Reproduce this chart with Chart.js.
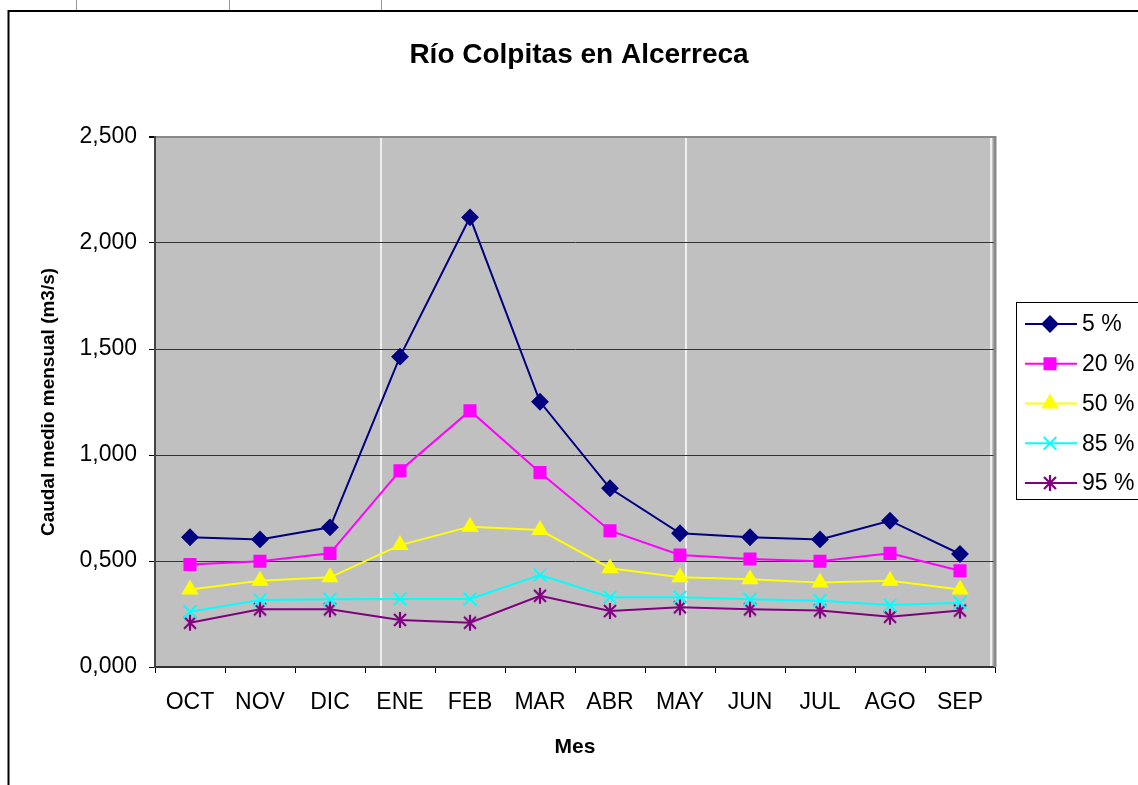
<!DOCTYPE html>
<html>
<head>
<meta charset="utf-8">
<script src="https://cdn.jsdelivr.net/npm/chart.js@4.4.0/dist/chart.umd.min.js"></script>
<style>
  html, body { margin: 0; padding: 0; background: #fff; }
  #wrap { width: 1138px; height: 785px; }
</style>
</head>
<body>
<div id="wrap"><canvas id="chart" width="1138" height="785"></canvas></div>
<script>
const months = ['OCT', 'NOV', 'DIC', 'ENE', 'FEB', 'MAR', 'ABR', 'MAY', 'JUN', 'JUL', 'AGO', 'SEP'];
const seriesNames = ['5 %', '20 %', '50 %', '85 %', '95 %'];
const p5 = [0.612, 0.602, 0.659, 1.464, 2.121, 1.251, 0.843, 0.631, 0.612, 0.602, 0.690, 0.533];
const p20 = [0.484, 0.499, 0.536, 0.926, 1.209, 0.917, 0.643, 0.528, 0.509, 0.499, 0.536, 0.454];
const p50 = [0.366, 0.407, 0.423, 0.575, 0.662, 0.646, 0.466, 0.423, 0.414, 0.398, 0.407, 0.366];
const p85 = [0.261, 0.316, 0.319, 0.321, 0.321, 0.434, 0.329, 0.329, 0.319, 0.313, 0.292, 0.303];
const p95 = [0.209, 0.272, 0.272, 0.222, 0.209, 0.336, 0.264, 0.282, 0.272, 0.266, 0.237, 0.266];
const yTicks = [0, 0.5, 1, 1.5, 2, 2.5];

const FONT = "'Liberation Sans', Arial, sans-serif";

// Excel style asterisk marker: an X with a vertical bar
function makeStarMarker(color) {
  const c = document.createElement('canvas');
  c.width = 18;
  c.height = 18;
  const g = c.getContext('2d');
  g.strokeStyle = color;
  g.lineWidth = 2.2;
  g.beginPath();
  g.moveTo(3, 3); g.lineTo(15, 15);
  g.moveTo(15, 3); g.lineTo(3, 15);
  g.moveTo(9, 1); g.lineTo(9, 17);
  g.stroke();
  return c;
}

const styles = [
  { color: '#000080', point: 'rectRot', radius: 7.5 },
  { color: '#FF00FF', point: 'rect', radius: 7.8 },
  { color: '#FFFF00', point: 'triangle', radius: 8 },
  { color: '#00FFFF', point: 'crossRot', radius: 9 },
  { color: '#800080', point: makeStarMarker('#800080'), radius: 9 },
];
const values = [p5, p20, p50, p85, p95];

const datasets = values.map((data, i) => ({
  label: seriesNames[i],
  data,
  borderColor: styles[i].color,
  backgroundColor: styles[i].color,
  borderWidth: 2,
  pointStyle: styles[i].point,
  pointRadius: styles[i].radius,
  pointBorderWidth: 2,
  pointBackgroundColor: styles[i].color,
  pointBorderColor: styles[i].color,
  tension: 0,
}));

const frameLines = [381, 686, 991];

const sheetPlugin = {
  id: 'sheetDecor',
  beforeDraw(chart) {
    const { ctx, chartArea: a } = chart;
    ctx.save();
    ctx.fillStyle = '#ffffff';
    ctx.fillRect(0, 0, chart.width, chart.height);
    ctx.fillStyle = '#C0C0C0';
    ctx.fillRect(a.left, a.top, a.right - a.left, a.bottom - a.top);
    ctx.strokeStyle = '#ffffff';
    ctx.lineWidth = 1.5;
    frameLines.forEach((x) => {
      ctx.beginPath();
      ctx.moveTo(x, a.top);
      ctx.lineTo(x, a.bottom);
      ctx.stroke();
    });
    ctx.restore();
  },
  afterDraw(chart) {
    const { ctx, chartArea: a } = chart;
    ctx.save();
    // right edge of plot area
    ctx.strokeStyle = '#888888';
    ctx.lineWidth = 3;
    ctx.beginPath();
    ctx.moveTo(a.right, a.top - 1);
    ctx.lineTo(a.right, a.bottom);
    ctx.stroke();

    // outer chart frame
    ctx.strokeStyle = '#000';
    ctx.lineWidth = 2;
    ctx.beginPath();
    ctx.moveTo(1140, 11);
    ctx.lineTo(8.5, 11);
    ctx.lineTo(8.5, 790);
    ctx.stroke();
    ctx.strokeStyle = '#999';
    ctx.lineWidth = 1;
    [76, 229, 381].forEach((x) => {
      ctx.beginPath();
      ctx.moveTo(x + 0.5, 0);
      ctx.lineTo(x + 0.5, 10);
      ctx.stroke();
    });

    // title
    ctx.fillStyle = '#000';
    ctx.font = `bold 28px ${FONT}`;
    ctx.textAlign = 'center';
    ctx.textBaseline = 'middle';
    ctx.fillText('Río Colpitas en Alcerreca', 579, 55);

    // legend
    const lx = 1016;
    const ly = 302;
    ctx.fillStyle = '#fff';
    ctx.fillRect(lx, ly, 140, 197);
    ctx.strokeStyle = '#000';
    ctx.lineWidth = 1;
    ctx.strokeRect(lx + 0.5, ly + 0.5, 140, 197);
    chart.data.datasets.forEach((ds, i) => {
      const y = 324 + i * 39.75;
      ctx.strokeStyle = ds.borderColor;
      ctx.fillStyle = ds.borderColor;
      ctx.lineWidth = 2;
      ctx.beginPath();
      ctx.moveTo(1025, y);
      ctx.lineTo(1077, y);
      ctx.stroke();
      Chart.helpers.drawPoint(ctx, {
        pointStyle: ds.pointStyle,
        radius: ds.pointRadius,
        rotation: 0,
        borderWidth: 2,
      }, 1050, y);
      ctx.fillStyle = '#000';
      ctx.font = `23px ${FONT}`;
      ctx.textAlign = 'left';
      ctx.textBaseline = 'middle';
      ctx.fillText(ds.label, 1082, y + 1);
    });
    ctx.restore();
  },
};

new Chart(document.getElementById('chart'), {
  type: 'line',
  data: { labels: months, datasets },
  options: {
    responsive: false,
    animation: false,
    devicePixelRatio: 1,
    layout: { padding: { left: 0, top: 137, right: 143, bottom: 0 } },
    plugins: {
      legend: { display: false },
      title: { display: false },
      tooltip: { enabled: false },
    },
    scales: {
      x: {
        offset: true,
        afterFit(scale) { scale.height = 118; },
        grid: {
          offset: true,
          drawOnChartArea: false,
          tickLength: 6,
          tickColor: '#000',
          tickWidth: 1,
        },
        border: { color: '#333', width: 2 },
        ticks: {
          color: '#000',
          font: { family: FONT, size: 23 },
          padding: 16,
          maxRotation: 0,
          autoSkip: false,
        },
        title: {
          display: true,
          text: 'Mes',
          color: '#000',
          font: { family: FONT, size: 21, weight: 'bold' },
          padding: { top: 0, bottom: 25 },
        },
      },
      y: {
        min: 0,
        max: 2.5,
        afterFit(scale) { scale.width = 155; },
        afterBuildTicks(scale) { scale.ticks = yTicks.map((v) => ({ value: v })); },
        grid: {
          color: (c) => (c.tick && c.tick.value === 2.5 ? '#8a8a8a' : '#333'),
          lineWidth: (c) => (c.tick && c.tick.value === 2.5 ? 2 : 1),
          tickColor: '#000',
          tickLength: 6,
        },
        border: { color: '#444', width: 2 },
        ticks: {
          color: '#000',
          font: { family: FONT, size: 23 },
          padding: 12,
          callback: (v) => Number(v).toFixed(3).replace('.', ','),
        },
        title: {
          display: true,
          text: 'Caudal medio mensual (m3/s)',
          color: '#000',
          font: { family: FONT, size: 19, weight: 'bold' },
          padding: { top: 37, bottom: 0 },
        },
      },
    },
  },
  plugins: [sheetPlugin],
});
</script>
</body>
</html>
